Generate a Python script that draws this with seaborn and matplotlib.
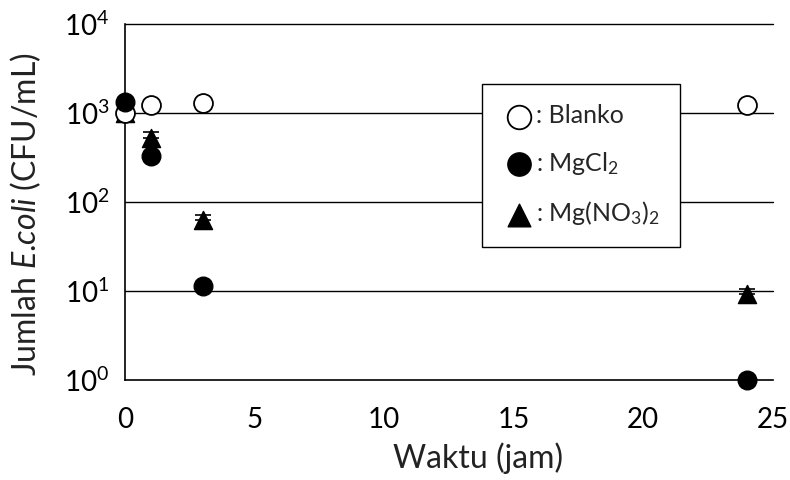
import matplotlib
matplotlib.use("Agg")
import matplotlib.pyplot as plt
import seaborn as sns
import numpy as np
from matplotlib.ticker import FixedLocator, NullLocator, LogFormatterMathtext

sns.set_theme(style="white")
plt.rcParams['font.family'] = ['Lato', 'DejaVu Sans']
plt.rcParams['mathtext.fontset'] = 'custom'
plt.rcParams['mathtext.rm'] = 'Lato'
plt.rcParams['mathtext.it'] = 'Lato:italic'
plt.rcParams['mathtext.bf'] = 'Lato:bold'

# Data
time_blanko = [0, 1, 3, 24]
blanko = [1000, 1230, 1290, 1230]
time_mgcl2 = [0, 1, 3, 24]
mgcl2 = [1330, 330, 11.5, 1.0]
time_mgno3 = [0, 1, 3, 24]
mgno3 = [1000, 530, 63, 9.4]
mgno3_err = [0, 85, 9, 1.3]

labels = [": Blanko", ": MgCl$_2$", ": Mg(NO$_3$)$_2$"]
xticks = [0, 5, 10, 15, 20, 25]
yticks = [1, 10, 100, 1000, 10000]

fig = plt.figure(figsize=(7.9, 4.8), dpi=100)
ax = fig.add_axes([0.158, 0.208, 0.820, 0.742])

ax.set_yscale('log')
ax.set_xlim(0, 25)
ax.set_ylim(1, 10000)

for yv in yticks[1:]:
    ax.axhline(yv, color='black', lw=1.0, zorder=1, clip_on=False)

ax.errorbar(time_mgno3, mgno3, yerr=[np.zeros(len(mgno3_err)), mgno3_err],
            fmt='none', ecolor='black', elinewidth=1.2, capsize=6, capthick=1.2,
            zorder=2, clip_on=False)
sns.scatterplot(x=time_mgno3, y=mgno3, marker='^', s=170, color='black',
                edgecolor='black', linewidth=1, ax=ax, zorder=3, clip_on=False,
                label=labels[2])
sns.scatterplot(x=time_blanko, y=blanko, marker='o', s=185, facecolor='white',
                edgecolor='black', linewidth=1.3, ax=ax, zorder=4, clip_on=False,
                label=labels[0])
sns.scatterplot(x=time_mgcl2, y=mgcl2, marker='o', s=180, color='black',
                edgecolor='black', linewidth=1, ax=ax, zorder=5, clip_on=False,
                label=labels[1])

handles, labs = ax.get_legend_handles_labels()
order = [labs.index(l) for l in labels]
leg = ax.legend([handles[i] for i in order], [labs[i] for i in order],
                loc='upper left', bbox_to_anchor=(0.552, 0.831),
                frameon=True, fancybox=False, edgecolor='black',
                framealpha=1, fontsize=18, labelspacing=0.9,
                handletextpad=0.05, borderpad=0.8, handlelength=1.3,
                borderaxespad=0, markerscale=1.25)
leg.get_frame().set_linewidth(1.0)
leg.set_zorder(10)

ax.set_xticks(xticks)
ax.yaxis.set_major_locator(FixedLocator(yticks))
ax.yaxis.set_minor_locator(NullLocator())
ax.yaxis.set_major_formatter(LogFormatterMathtext())
ax.tick_params(axis='both', direction='in', length=7, width=1.2, colors='black',
               labelsize=20)
ax.tick_params(axis='x', pad=19)
ax.tick_params(axis='y', pad=11)

for s in ['top', 'right']:
    ax.spines[s].set_visible(False)
for s in ['left', 'bottom']:
    ax.spines[s].set_color('black')
    ax.spines[s].set_linewidth(1.2)

ax.set_xlabel('Waktu (jam)', fontsize=23, color='#222222')
ax.set_ylabel('Jumlah $\\it{E}$.$\\it{coli}$ (CFU/mL)', fontsize=23,
              color='#222222')
ax.xaxis.set_label_coords(0.545, -0.175)
ax.yaxis.set_label_coords(-0.127, 0.466)

fig.savefig('out.png', dpi=100)
